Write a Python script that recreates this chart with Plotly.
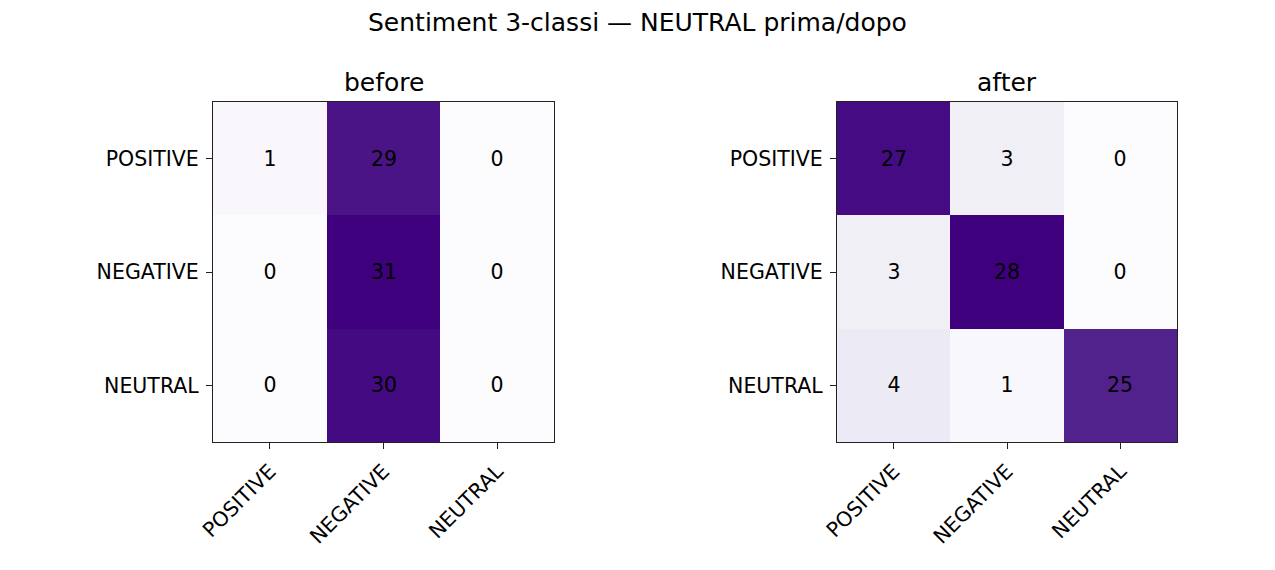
import plotly.graph_objects as go

labels = ["POSITIVE", "NEGATIVE", "NEUTRAL"]
before = [[1, 29, 0], [0, 31, 0], [0, 30, 0]]
after = [[27, 3, 0], [3, 28, 0], [4, 1, 25]]

purples = [[0.0, "rgb(252,251,253)"], [0.125, "rgb(239,237,245)"], [0.25, "rgb(218,218,235)"],
           [0.375, "rgb(188,189,220)"], [0.5, "rgb(158,154,200)"], [0.625, "rgb(128,125,186)"],
           [0.75, "rgb(106,81,163)"], [0.875, "rgb(84,39,143)"], [1.0, "rgb(63,0,125)"]]

W, H = 1275, 570
fig = go.Figure()
font = "DejaVu Sans"
TICK = 20.5
TITLE = 25

panels = [(before, "before", 213, 554, "x", "y"), (after, "after", 837, 1177, "x2", "y2")]
for i, (z, title, x0, x1, xa, ya) in enumerate(panels):
    zmax = max(max(r) for r in z)
    fig.add_trace(go.Heatmap(
        z=z, x=labels, y=labels, colorscale=purples, zmin=0, zmax=zmax,
        showscale=False, texttemplate="%{z}",
        textfont=dict(family=font, size=TICK, color="black"),
        xaxis=xa, yaxis=ya, xgap=0, ygap=0, hoverinfo="z"))
    sfx = "" if i == 0 else "2"
    axstyle = dict(showline=True, linecolor="#222", linewidth=1.3, mirror=True,
                   ticks="outside", ticklen=6, tickwidth=1.2, tickcolor="#222",
                   showgrid=False, zeroline=False, automargin=False,
                   tickfont=dict(family=font, size=TICK, color="black"))
    fig.update_layout(**{
        "xaxis" + sfx: dict(domain=[x0 / W, x1 / W], anchor="y" + sfx, tickangle=-45,
                            ticklabelstandoff=2, **axstyle),
        "yaxis" + sfx: dict(domain=[1 - 442 / H, 1 - 102 / H], anchor="x" + sfx,
                            autorange="reversed", ticklabelstandoff=3, **axstyle),
    })
    fig.add_annotation(text=title, x=(x0 + x1) / 2 / W, y=1 - 82 / H, xref="paper", yref="paper",
                       showarrow=False, xanchor="center", yanchor="middle",
                       font=dict(family=font, size=TITLE, color="black"))

fig.add_annotation(text="Sentiment 3-classi — NEUTRAL prima/dopo", x=637 / W, y=1 - 22 / H,
                   xref="paper", yref="paper", showarrow=False, xanchor="center", yanchor="middle",
                   font=dict(family=font, size=TITLE, color="black"))

fig.update_layout(width=W, height=H, margin=dict(l=0, r=0, t=0, b=0, autoexpand=False),
                  plot_bgcolor="white", paper_bgcolor="white")
fig.write_html("out.html")
